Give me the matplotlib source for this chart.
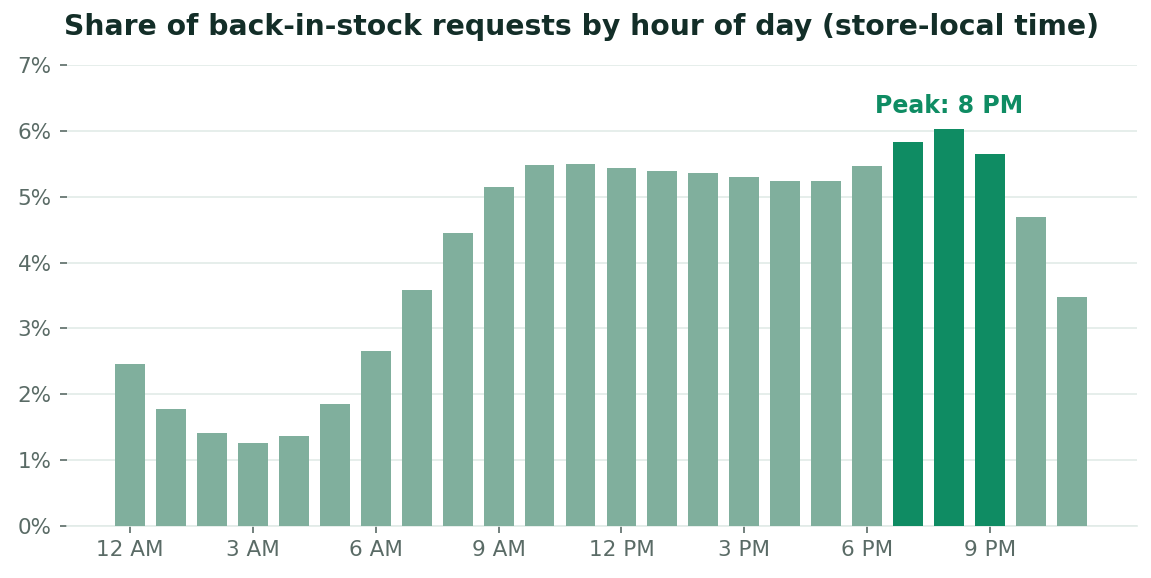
import numpy as np
import matplotlib
matplotlib.use("Agg")
import matplotlib.pyplot as plt
from matplotlib.ticker import FuncFormatter

# share of requests (%) by hour 0..23
hours = list(range(24))
share = [2.46, 1.78, 1.41, 1.26, 1.37, 1.85, 2.66, 3.58, 4.45, 5.15,
         5.48, 5.50, 5.44, 5.39, 5.36, 5.30, 5.24, 5.24, 5.47, 5.83,
         6.03, 5.65, 4.69, 3.48]
highlight_hours = [19, 20, 21]
tick_hours = [0, 3, 6, 9, 12, 15, 18, 21]
tick_labels = ["12 AM", "3 AM", "6 AM", "9 AM", "12 PM", "3 PM", "6 PM", "9 PM"]
peak_label = "Peak: 8 PM"

MUTED = "#80af9d"
STRONG = "#0f8c63"
GRID = "#e2ebe8"
TXT = "#5a6b66"

fig = plt.figure(figsize=(11.51, 5.78), dpi=100)
ax = fig.add_axes([67/1151, 1 - 526/578, (1137-67)/1151, (526-65)/578])

colors = [STRONG if h in highlight_hours else MUTED for h in hours]
ax.bar(hours, share, width=0.73, color=colors, zorder=3)

ax.set_ylim(0, 7)
ax.set_xlim(-1.54, 24.59)
ax.set_yticks(range(0, 8))
ax.yaxis.set_major_formatter(FuncFormatter(lambda v, p: f"{int(v)}%"))
ax.set_xticks(tick_hours)
ax.set_xticklabels(tick_labels)

ax.grid(axis="y", color=GRID, linewidth=1.2, zorder=0)
for s in ["top", "right", "left"]:
    ax.spines[s].set_visible(False)
ax.spines["bottom"].set_color(GRID)
ax.spines["bottom"].set_linewidth(1.2)
ax.tick_params(axis="both", colors=TXT, labelsize=15.5, length=5, width=1.2)
ax.tick_params(axis="y", pad=6)
ax.tick_params(axis="x", pad=5)

pk = int(np.argmax(share))
ax.text(hours[pk], share[pk] + 0.35, peak_label, ha="center", va="center",
        fontsize=17, fontweight="bold", color=STRONG)

fig.text(581/1151, 1 - 27/578, "Share of back-in-stock requests by hour of day (store-local time)",
         ha="center", va="center", fontsize=20.3, fontweight="bold", color="#132e28")

fig.savefig("out.png", dpi=100)
